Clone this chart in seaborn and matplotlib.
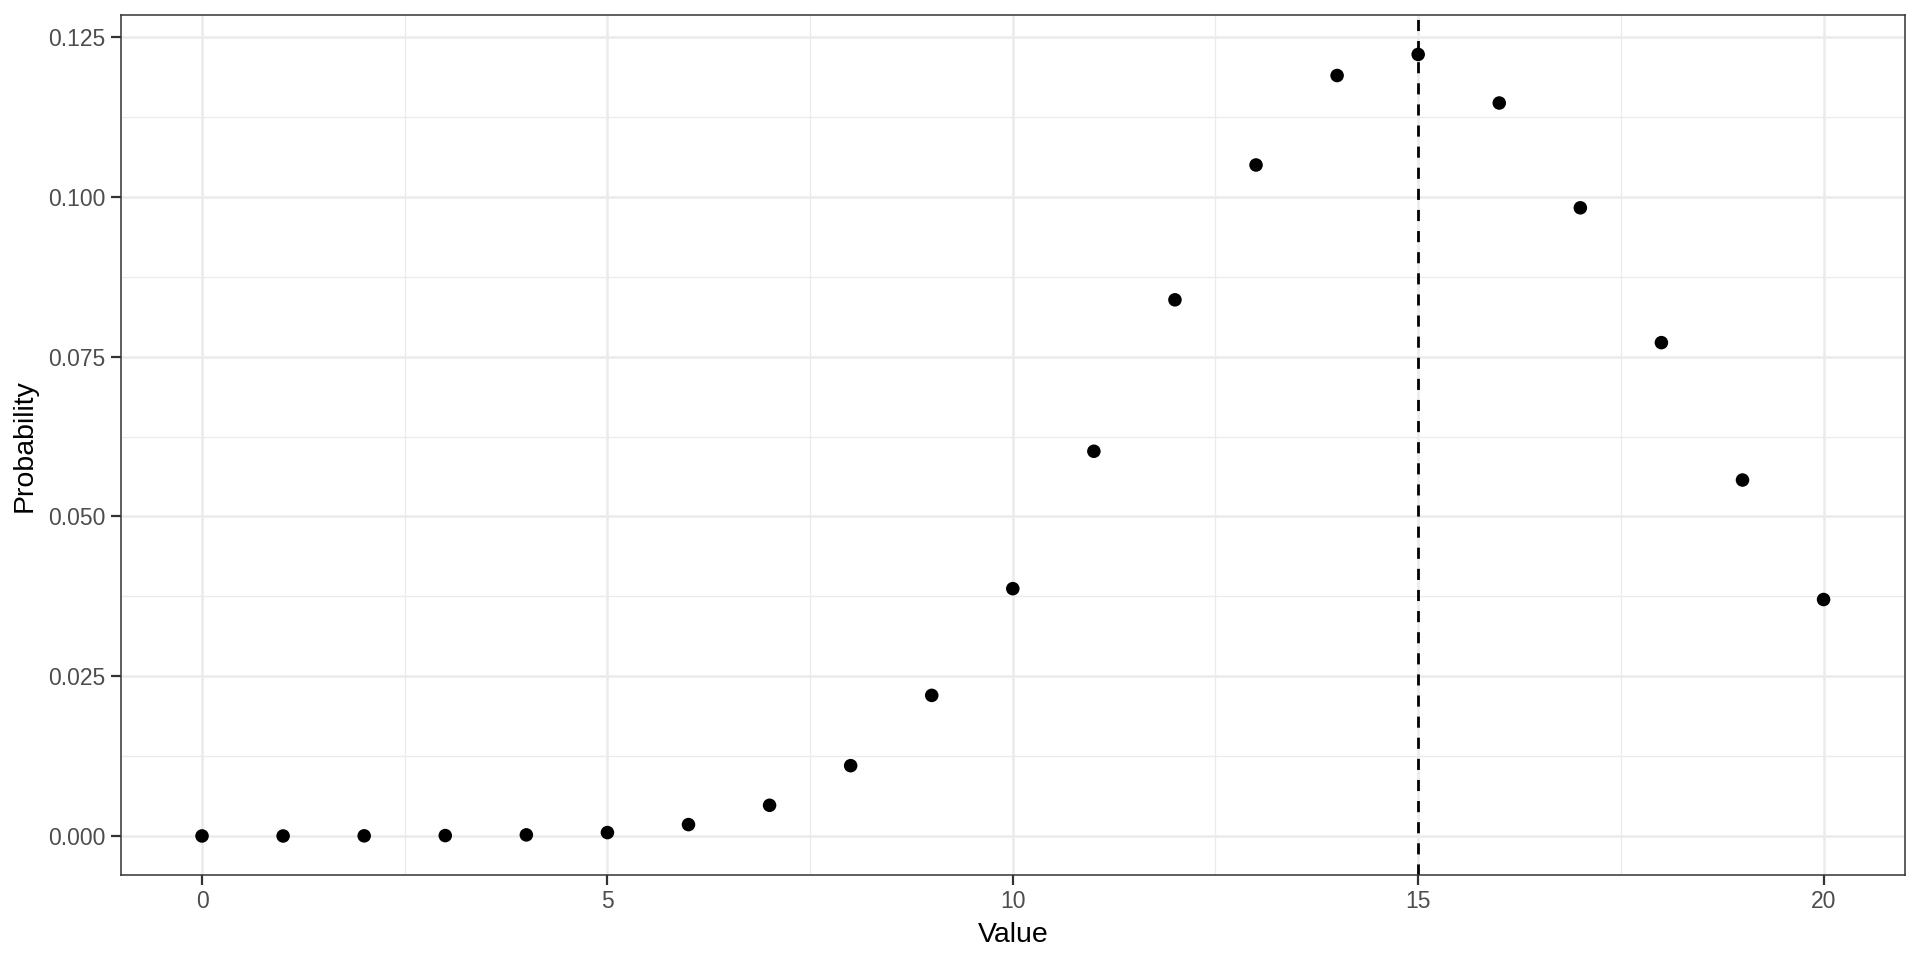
import numpy as np
import pandas as pd
import seaborn as sns
import matplotlib.pyplot as plt
from matplotlib.ticker import MultipleLocator, FormatStrFormatter

# values
values = list(range(0, 21))
probs = [0.0, 0.0, 0.00002, 0.00006, 0.00017, 0.00053, 0.00178, 0.0048,
         0.0110, 0.0220, 0.0387, 0.0602, 0.0839, 0.1050, 0.1190, 0.1223,
         0.1147, 0.0983, 0.0772, 0.0557, 0.0370]
marker_value = 15

df = pd.DataFrame({"Value": values, "Probability": probs})

sns.set_theme(style="whitegrid")
plt.rcParams["font.family"] = ["Liberation Sans", "DejaVu Sans"]

fig = plt.figure(figsize=(19.2, 9.6), dpi=100)
ax = fig.add_axes([0.063, 0.0885, 0.929, 0.8955])

# grid like theme_bw
ax.set_axisbelow(True)
ax.xaxis.set_major_locator(MultipleLocator(5))
ax.xaxis.set_minor_locator(MultipleLocator(2.5))
ax.yaxis.set_major_locator(MultipleLocator(0.025))
ax.yaxis.set_minor_locator(MultipleLocator(0.0125))
ax.yaxis.set_major_formatter(FormatStrFormatter("%.3f"))
ax.grid(which="major", color="#EBEBEB", linewidth=1.8)
ax.grid(which="minor", color="#EBEBEB", linewidth=0.9)

ax.axvline(marker_value, color="black", linewidth=2.0, dashes=(4, 3.6), zorder=2)
sns.scatterplot(data=df, x="Value", y="Probability", ax=ax, color="black",
                s=95, edgecolor="none", zorder=3)

ymax = max(probs)
ax.set_xlim(-1, 21)
ax.set_ylim(-0.05 * ymax, 1.05 * ymax)

for sp in ax.spines.values():
    sp.set_visible(True)
    sp.set_color("#333333")
    sp.set_linewidth(1.1)

ax.tick_params(axis="both", which="major", length=7, width=1.6, color="#333333",
               labelsize=16.5, labelcolor="#4D4D4D", pad=4, bottom=True, left=True)
ax.tick_params(axis="both", which="minor", length=0)

ax.set_xlabel("Value", fontsize=20.5, color="black", labelpad=6)
ax.set_ylabel("Probability", fontsize=20.5, color="black", labelpad=8)

fig.savefig("out.png", dpi=100, facecolor="white")
